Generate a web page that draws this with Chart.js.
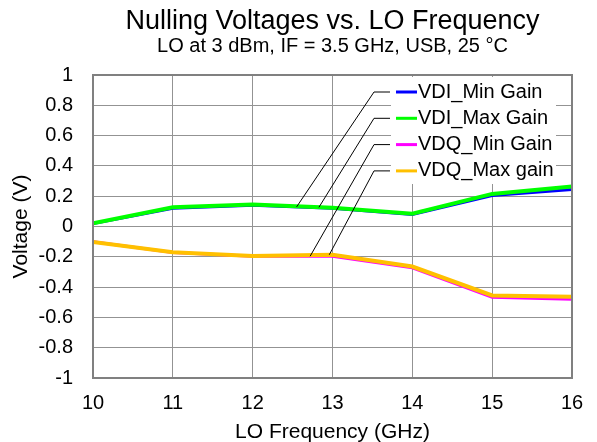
<!DOCTYPE html>
<html lang="en">
<head>
<meta charset="UTF-8">
<title>Nulling Voltages vs. LO Frequency</title>
<script src="https://cdn.jsdelivr.net/npm/chart.js@4.4.1/dist/chart.umd.min.js"></script>
<style>
  html, body { margin: 0; padding: 0; background: #fff; }
  #chart { display: block; }
</style>
</head>
<body>
<canvas id="chart" width="597" height="442"></canvas>
<script>
const loFreq = [10, 11, 12, 13, 14, 15, 16];
const vdiMinGain = [0.02, 0.12, 0.14, 0.12, 0.08, 0.205, 0.245];
const vdiMaxGain = [0.022, 0.127, 0.145, 0.123, 0.084, 0.215, 0.264];
const vdqMinGain = [-0.10, -0.172, -0.196, -0.196, -0.273, -0.467, -0.48];
const vdqMaxGain = [-0.103, -0.17, -0.194, -0.186, -0.264, -0.455, -0.463];
const seriesNames = ['VDI_Min Gain', 'VDI_Max Gain', 'VDQ_Min Gain', 'VDQ_Max gain'];
const seriesColors = ['#0000ff', '#00ff00', '#ff00ff', '#ffc000'];
const xTicks = [10, 11, 12, 13, 14, 15, 16];
const yTicks = [-1, -0.8, -0.6, -0.4, -0.2, 0, 0.2, 0.4, 0.6, 0.8, 1];
// frequency (GHz) where each legend leader line meets its curve
const leaderAt = [12.55, 12.83, 12.72, 12.96];

const FONT = '"Liberation Sans", Arial, sans-serif';
Chart.defaults.font.family = FONT;
Chart.defaults.color = '#000';

function valueAt(arr, f) {
  for (let j = 0; j < loFreq.length - 1; j++) {
    if (f >= loFreq[j] && f <= loFreq[j + 1]) {
      return arr[j] + (arr[j + 1] - arr[j]) * (f - loFreq[j]) / (loFreq[j + 1] - loFreq[j]);
    }
  }
  return arr[arr.length - 1];
}

// plot frame + excel style legend with leader lines
const calloutLegend = {
  id: 'calloutLegend',
  afterDatasetsDraw(chart) {
    const {ctx, chartArea, scales: {x, y}} = chart;
    const lx = chartArea.right - 198;
    ctx.save();
    ctx.strokeStyle = '#808080';
    ctx.lineWidth = 2;
    ctx.strokeRect(chartArea.left, chartArea.top, chartArea.right - chartArea.left, chartArea.bottom - chartArea.top);

    ctx.fillStyle = '#fff';
    ctx.fillRect(lx + 17, chartArea.top + 2, 165, 107);

    ctx.font = '20px ' + FONT;
    ctx.textBaseline = 'middle';
    chart.data.datasets.forEach((ds, i) => {
      const rowY = chartArea.top + 17 + i * 26.3;
      const arr = ds.data.map(p => p.y);
      const ax = x.getPixelForValue(leaderAt[i]);
      const ay = y.getPixelForValue(valueAt(arr, leaderAt[i]));
      ctx.strokeStyle = '#000';
      ctx.lineWidth = 1;
      ctx.beginPath();
      ctx.moveTo(ax, ay);
      ctx.lineTo(lx, rowY);
      ctx.lineTo(lx + 16, rowY);
      ctx.stroke();
      ctx.strokeStyle = seriesColors[i];
      ctx.lineWidth = 3;
      ctx.beginPath();
      ctx.moveTo(lx + 22, rowY);
      ctx.lineTo(lx + 43, rowY);
      ctx.stroke();
      ctx.fillStyle = '#000';
      ctx.fillText(seriesNames[i], lx + 44, rowY);
    });
    ctx.restore();
  }
};

const series = [vdiMinGain, vdiMaxGain, vdqMinGain, vdqMaxGain];
const widths = [3, 4, 3, 4];
const orders = [4, 3, 2, 1];

new Chart(document.getElementById('chart'), {
  type: 'line',
  data: {
    datasets: series.map((arr, i) => ({
      label: seriesNames[i],
      data: loFreq.map((f, k) => ({x: f, y: arr[k]})),
      borderColor: seriesColors[i],
      backgroundColor: seriesColors[i],
      borderWidth: widths[i],
      pointRadius: 0,
      tension: 0,
      fill: false,
      order: orders[i]
    }))
  },
  options: {
    responsive: false,
    animation: false,
    devicePixelRatio: 1,
    layout: {padding: {left: 0, right: 25, top: 0, bottom: 0}},
    plugins: {
      legend: {display: false},
      tooltip: {enabled: false},
      title: {
        display: true,
        fullSize: false,
        text: 'Nulling Voltages vs. LO Frequency',
        font: {size: 27, weight: 'normal', lineHeight: 1},
        padding: {top: 8.5, bottom: 0}
      },
      subtitle: {
        display: true,
        fullSize: false,
        text: 'LO at 3 dBm, IF = 3.5 GHz, USB, 25 °C',
        font: {size: 20, weight: 'normal', lineHeight: 1},
        padding: {top: 0.8, bottom: 18.7}
      }
    },
    scales: {
      x: {
        type: 'linear',
        min: 10,
        max: 16,
        afterBuildTicks: s => { s.ticks = xTicks.map(v => ({value: v})); },
        afterFit: s => { s.height = 64; },
        ticks: {font: {size: 20}, padding: 13.5, maxRotation: 0, callback: v => String(v)},
        grid: {color: '#939393', lineWidth: 1, drawTicks: false},
        border: {color: '#808080', width: 2},
        title: {display: true, text: 'LO Frequency (GHz)', font: {size: 21, lineHeight: 0.9}, padding: {top: 0, bottom: 0}}
      },
      y: {
        type: 'linear',
        min: -1,
        max: 1,
        afterBuildTicks: s => { s.ticks = yTicks.map(v => ({value: v})); },
        afterFit: s => { s.width = 93; },
        ticks: {font: {size: 20}, padding: 20, callback: v => String(Math.round(v * 10) / 10)},
        grid: {color: '#939393', lineWidth: 1, drawTicks: false},
        border: {color: '#808080', width: 2},
        title: {display: true, text: 'Voltage (V)', font: {size: 21}, padding: {top: 9, bottom: 0}}
      }
    }
  },
  plugins: [calloutLegend]
});
</script>
</body>
</html>
